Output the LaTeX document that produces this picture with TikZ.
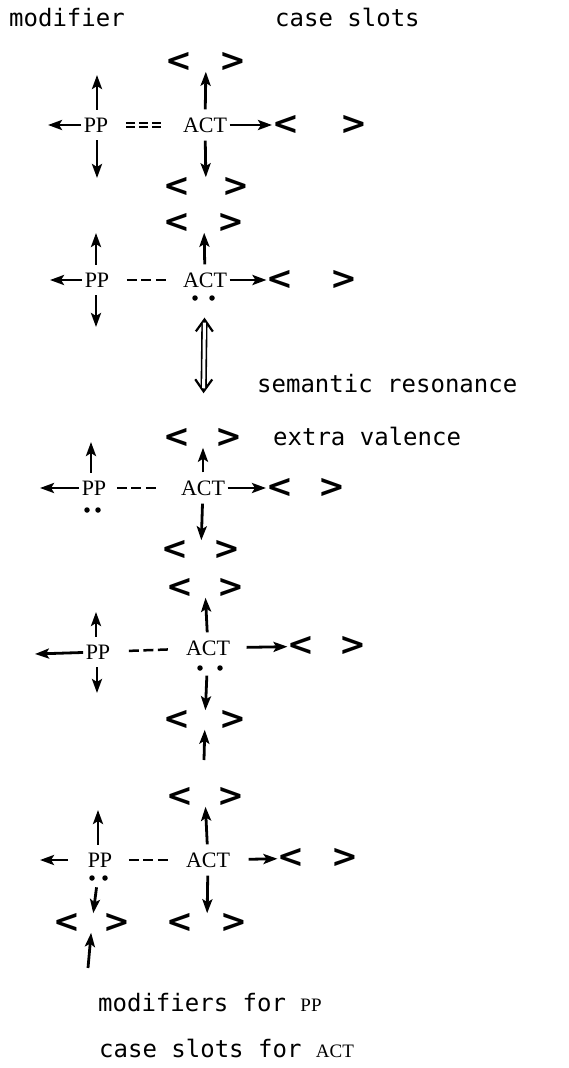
\documentclass[tikz,border=0pt]{standalone}
\usepackage{fontspec}
\setmainfont{Liberation Serif}
\newfontfamily\twfont{DejaVu Sans Mono}
\newfontfamily\chevfont{DejaVu Sans}
\usetikzlibrary{arrows.meta}
\newcommand\pair[1]{<\hspace{#1pt}>}
\begin{document}
\begin{tikzpicture}[x=1pt,y=-1pt,
  cd/.style={font=\fontsize{22}{22}\selectfont, inner xsep=2.5pt, inner ysep=8pt},
  slot/.style={font=\chevfont\bfseries\fontsize{32}{32}\selectfont, inner sep=0pt},
  lab/.style={font=\twfont\fontsize{24}{24}\selectfont, anchor=base west, inner sep=0pt},
  arr/.style={line width=2.8pt, -{Stealth[length=14pt,width=10pt,inset=3pt]}},
  link/.style={line width=2.5pt, dash pattern=on 10pt off 4.5pt},
  barbs/.style={line width=2.2pt, {Straight Barb[length=12pt,width=17pt]}-{Straight Barb[length=12pt,width=17pt]}},
  shaft/.style={double, double distance=3pt, line width=1.6pt},
  dot/.style={circle, fill, inner sep=0pt, minimum size=5.5pt}
]
\useasboundingbox (0,0) rectangle (569,1068);
% headers
\node[lab] (hmod) at (9,27) {modifier};
\node[lab] (hcase) at (275,27) {case slots};
% block 1
\node[cd] (pp1) at (96,125) {PP};
\node[cd] (act1) at (205,125) {ACT};
\node[slot] (s1t) at (206,62) {\pair{27}};
\node[slot] (s1b) at (206,187) {\pair{32}};
\node[slot] (s1r) at (320,125) {\pair{42}};
\coordinate (m1l) at (48,125);
\coordinate (m1u) at (97,75);
\coordinate (m1d) at (97,178);
\draw[arr] (pp1) -- (m1l);
\draw[arr] (pp1.north -| m1u) -- (m1u);
\draw[arr] (pp1.south -| m1d) -- (m1d);
\draw[arr] (act1) -- (s1t);
\draw[arr] (act1) -- (s1b);
\draw[arr] (act1) -- (s1r);
\draw[double, double distance=2.6pt, line width=1.6pt, dash pattern=on 9pt off 4pt,
      shorten <=15pt, shorten >=18pt] (pp1) -- (act1);
% block 2
\node[cd] (pp2) at (97,280) {PP};
\node[cd] (act2) at (205,280) {ACT};
\node[slot] (s2t) at (204,223) {\pair{27}};
\node[slot] (s2r) at (312,280) {\pair{37}};
\coordinate (m2l) at (50,280);
\coordinate (m2u) at (96,233);
\coordinate (m2d) at (96,327);
\draw[arr] (pp2) -- (m2l);
\draw[arr] (pp2.north -| m2u) -- (m2u);
\draw[arr] (pp2.south -| m2d) -- (m2d);
\draw[arr] (act2) -- (s2t);
\draw[arr] (act2) -- (s2r);
\draw[link, shorten <=15pt, shorten >=13pt] (pp2) -- (act2);
\node[dot] (d2a) at (195,298) {};
\node[dot] (d2b) at (212,298) {};
% block 3
\node[cd] (pp3) at (94,488) {PP};
\node[cd] (act3) at (203,488) {ACT};
\node[slot] (s3t) at (203,438) {\pair{25}};
\node[slot] (s3r) at (306,488) {\pair{26}};
\node[slot] (s3b) at (201,550) {\pair{26}};
\coordinate (m3l) at (40,488);
\coordinate (m3u) at (91,442);
\draw[arr] (pp3) -- (m3l);
\draw[arr] (pp3.north -| m3u) -- (m3u);
\draw[arr] (act3) -- (s3t);
\draw[arr] (act3) -- (s3r);
\draw[arr] (act3) -- (s3b);
\draw[link, shorten <=8pt, shorten >=22pt] (pp3) -- (act3);
\node[dot] (d3a) at (87,510) {};
\node[dot] (d3b) at (98,510) {};
% resonance
\draw[barbs, shorten <=22pt, shorten >=35pt] (act2) -- (s3t);
\draw[shaft, shorten <=27pt, shorten >=40pt] (act2) -- (s3t);
\node[lab] (sem) at (257,392) {semantic resonance};
\node[lab] (extra) at (273,445) {extra valence};
% block 4
\node[cd] (pp4) at (98,652) {PP};
\node[cd] (act4) at (208,648) {ACT};
\node[slot] (s4t) at (205,588) {\pair{24}};
\node[slot] (s4r) at (327,646) {\pair{25}};
\node[slot] (s4b) at (205,720) {\pair{29}};
\coordinate (m4l) at (35,654);
\coordinate (m4u) at (96,612);
\coordinate (m4d) at (97,693);
\coordinate (c4) at (204,760);
\draw[arr] (pp4) -- (m4l);
\draw[arr] (pp4.north -| m4u) -- (m4u);
\draw[arr] (pp4.south -| m4d) -- (m4d);
\draw[arr] (act4) -- (s4t);
\draw[arr, shorten <=14pt] (act4) -- (s4r);
\draw[arr, shorten <=12pt] (act4) -- (s4b);
\draw[arr] (c4) -- (s4b);
\draw[link, shorten <=16pt, shorten >=13pt] (pp4) -- (act4);
\node[dot] (d4a) at (200,668) {};
\node[dot] (d4b) at (220,668) {};
% block 5
\node[cd] (pp5) at (100,860) {PP};
\node[cd] (act5) at (208,860) {ACT};
\node[slot] (s5t) at (205,797) {\pair{24}};
\node[slot] (s5r) at (318,858) {\pair{27}};
\node[slot] (s5pb) at (92,923) {\pair{23}};
\node[slot] (s5b) at (207,923) {\pair{27}};
\coordinate (m5l) at (40,860);
\coordinate (m5u) at (98,810);
\coordinate (c5) at (88,968);
\draw[arr, shorten <=17pt] (pp5) -- (m5l);
\draw[arr] (pp5.north -| m5u) -- (m5u);
\draw[arr, shorten <=12pt] (pp5) -- (s5pb);
\draw[arr] (act5) -- (s5t);
\draw[arr, shorten <=16pt] (act5) -- (s5r);
\draw[arr] (act5) -- (s5b);
\draw[arr] (c5) -- (s5pb);
\draw[link, shorten <=14pt, shorten >=15pt] (pp5) -- (act5);
\node[dot] (d5a) at (92,878) {};
\node[dot] (d5b) at (105,878) {};
% captions
\node[lab] (fpp) at (98,1011) {modifiers for {\rmfamily\fontsize{19}{19}\selectfont PP}};
\node[lab] (fact) at (99,1057) {case slots for {\rmfamily\fontsize{19}{19}\selectfont ACT}};
\end{tikzpicture}
\end{document}
